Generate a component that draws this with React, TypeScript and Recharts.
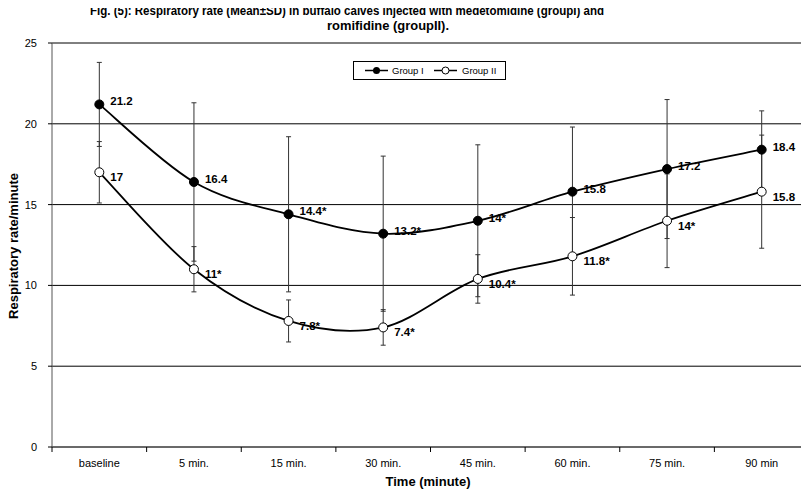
import React from 'react';
import { LineChart, Line, XAxis, YAxis, CartesianGrid, ErrorBar, LabelList, Legend } from 'recharts';

const categories = ['baseline', '5 min.', '15 min.', '30 min.', '45 min.', '60 min.', '75 min.', '90 min'];
const group1Mean = [21.2, 16.4, 14.4, 13.2, 14, 15.8, 17.2, 18.4];
const group1Sd = [2.6, 4.9, 4.8, 4.8, 4.7, 4.0, 4.3, 2.4];
const group1Labels = ['21.2', '16.4', '14.4*', '13.2*', '14*', '15.8', '17.2', '18.4'];
const group2Mean = [17, 11, 7.8, 7.4, 10.4, 11.8, 14, 15.8];
const group2Sd = [1.9, 1.4, 1.3, 1.1, 1.5, 2.4, 2.9, 3.5];
const group2Labels = ['17', '11*', '7.8*', '7.4*', '10.4*', '11.8*', '14*', '15.8'];
const yTicks = [0, 5, 10, 15, 20, 25];

const FONT = 'Arial, "Liberation Sans", sans-serif';
const HALF_BAND = (809 - 52) / 16;

const chartData = categories.map((name, i) => ({
  name,
  g1: group1Mean[i],
  g1Sd: group1Sd[i],
  g1Label: group1Labels[i],
  g2: group2Mean[i],
  g2Sd: group2Sd[i],
  g2Label: group2Labels[i],
}));

// Excel-style smoothed line (cardinal spline through the points)
function excelCurve(context: any) {
  let pts: number[][] = [];
  return {
    areaStart() {},
    areaEnd() {},
    lineStart() {
      pts = [];
    },
    point(x: number, y: number) {
      pts.push([+x, +y]);
    },
    lineEnd() {
      if (!pts.length) return;
      context.moveTo(pts[0][0], pts[0][1]);
      for (let i = 0; i < pts.length - 1; i++) {
        const p0 = pts[i - 1] || pts[i];
        const p1 = pts[i];
        const p2 = pts[i + 1];
        const p3 = pts[i + 2] || p2;
        context.bezierCurveTo(
          p1[0] + (p2[0] - p0[0]) / 6,
          p1[1] + (p2[1] - p0[1]) / 6,
          p2[0] - (p3[0] - p1[0]) / 6,
          p2[1] - (p3[1] - p1[1]) / 6,
          p2[0],
          p2[1]
        );
      }
    },
  };
}

const makeLabel = (dy: number) => (props: any) => {
  const { x, y, value } = props;
  return (
    <text x={x + 11} y={y + dy} fontSize={11.5} fontWeight="bold" fontFamily={FONT} fill="#000">
      {value}
    </text>
  );
};

const XTick = (props: any) => {
  const { x, y, payload } = props;
  const axisY = y - 12;
  return (
    <g>
      <line x1={x - HALF_BAND} x2={x - HALF_BAND} y1={axisY} y2={axisY + 5} stroke="#000" />
      <text x={x} y={y} dy="0.71em" textAnchor="middle" fontSize={11} fontFamily={FONT} fill="#000">
        {payload.value}
      </text>
    </g>
  );
};

const renderLegend = () => (
  <svg width={153} height={19} style={{ display: 'block' }}>
    <rect x={0.5} y={0.5} width={152} height={18} fill="#fff" stroke="#000" />
    <line x1={12} x2={35} y1={9.5} y2={9.5} stroke="#000" strokeWidth={1.5} />
    <circle cx={23.5} cy={9.5} r={3.5} fill="#000" />
    <text x={39} y={13} fontSize={9.5} fontFamily={FONT} fill="#000">Group I</text>
    <line x1={81} x2={104} y1={9.5} y2={9.5} stroke="#000" strokeWidth={1.5} />
    <circle cx={92.5} cy={9.5} r={3.5} fill="#fff" stroke="#000" />
    <text x={109} y={13} fontSize={9.5} fontFamily={FONT} fill="#000">Group II</text>
  </svg>
);

export default function App() {
  return (
    <div style={{ position: 'relative', width: 809, height: 491, margin: '-8px 0 0 -8px', background: '#fff' }}>
      <LineChart width={809} height={491} data={chartData} margin={{ top: 43, right: 0, bottom: 0, left: 0 }}>
        <CartesianGrid vertical={false} stroke="#000" />
        <XAxis
          dataKey="name"
          height={44}
          tickLine={false}
          tickSize={6}
          tickMargin={6}
          tick={<XTick />}
          axisLine={{ stroke: '#555' }}
          interval={0}
          padding={{ left: HALF_BAND, right: HALF_BAND }}
        />
        <YAxis
          width={52}
          domain={[0, 25]}
          ticks={yTicks}
          tickSize={4}
          tickMargin={11}
          tick={{ fontSize: 11, fill: '#000', fontFamily: FONT }}
          tickLine={{ stroke: '#000' }}
          axisLine={{ stroke: '#555' }}
        />
        <Legend
          layout="vertical"
          align="center"
          verticalAlign="middle"
          content={renderLegend}
          wrapperStyle={{ position: 'absolute', left: 353, top: 61, width: 153, height: 19 }}
        />
        <Line
          dataKey="g1"
          type={excelCurve as any}
          stroke="#000"
          strokeWidth={1.8}
          dot={{ r: 4.5, fill: '#000', stroke: '#000', strokeWidth: 1 }}
          isAnimationActive={false}
        >
          <ErrorBar dataKey="g1Sd" direction="y" width={2.5} stroke="#333" strokeWidth={1} />
          <LabelList dataKey="g1Label" content={makeLabel(1)} />
        </Line>
        <Line
          dataKey="g2"
          type={excelCurve as any}
          stroke="#000"
          strokeWidth={1.8}
          dot={{ r: 4.5, fill: '#fff', stroke: '#000', strokeWidth: 1 }}
          isAnimationActive={false}
        >
          <ErrorBar dataKey="g2Sd" direction="y" width={2.5} stroke="#333" strokeWidth={1} />
          <LabelList dataKey="g2Label" content={makeLabel(9)} />
        </Line>
      </LineChart>
      <svg
        width={809}
        height={491}
        style={{ position: 'absolute', left: 0, top: 0, pointerEvents: 'none' }}
      >
        <text x={90} y={15} fontSize={12} fontWeight="bold" fontFamily={FONT} textLength={514} lengthAdjust="spacingAndGlyphs">
          Fig. (5): Respiratory rate (Mean±SD) in buffalo calves injected with medetomidine (groupI) and
        </text>
        <text x={327} y={29.5} fontSize={12} fontWeight="bold" fontFamily={FONT} textLength={122} lengthAdjust="spacingAndGlyphs">
          romifidine (groupII).
        </text>
        <text
          x={0}
          y={0}
          transform="translate(18,246) rotate(-90)"
          textAnchor="middle"
          fontSize={13}
          fontWeight="bold"
          fontFamily={FONT}
        >
          Respiratory rate/minute
        </text>
        <text x={428} y={486} textAnchor="middle" fontSize={13} fontWeight="bold" fontFamily={FONT}>
          Time (minute)
        </text>
      </svg>
    </div>
  );
}
